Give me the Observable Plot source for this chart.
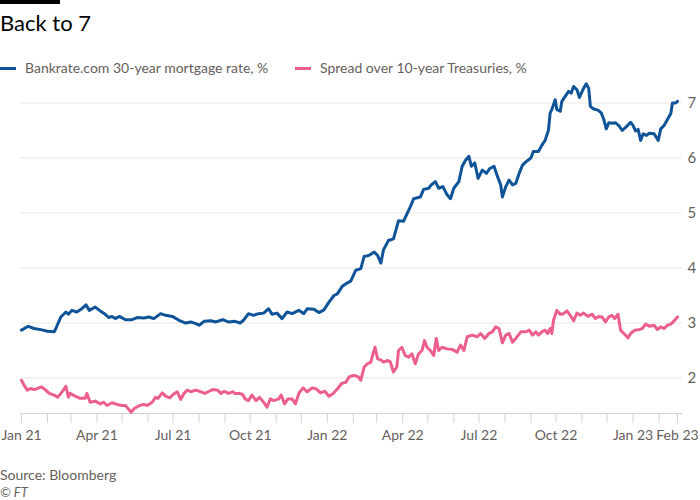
<!DOCTYPE html>
<html>
<head>
<meta charset="utf-8">
<script src="https://cdn.jsdelivr.net/npm/d3@7"></script>
<script src="https://cdn.jsdelivr.net/npm/@observablehq/plot@0.6"></script>
<style>
  html, body { margin: 0; padding: 0; background: #ffffff; }
  body { width: 700px; height: 500px; position: relative; overflow: hidden; font-family: Lato, "Open Sans", sans-serif; }
  #bar { position: absolute; left: 0; top: 0; width: 60px; height: 4px; background: #000; }
  #title { position: absolute; left: 0; top: 9px; font-size: 22px; color: #000; }
  .legend { position: absolute; top: 59px; font-size: 14px; color: #66605c; white-space: nowrap; }
  .legend .sw { position: absolute; top: 8px; width: 16px; height: 3px; }
  .legend span.t { position: relative; left: 25px; }
  #chart { position: absolute; left: 0; top: 70px; }
  #source { position: absolute; left: 0; top: 466px; font-size: 14px; color: #66605c; }
  #credit { position: absolute; left: 0; top: 484px; font-size: 13px; color: #66605c; font-style: italic; }
</style>
</head>
<body>
<div id="bar"></div>
<div id="title">Back to 7</div>
<div class="legend" id="leg1" style="left:0px"><div class="sw" style="background:#0f5499"></div><span class="t"></span></div>
<div class="legend" id="leg2" style="left:295px"><div class="sw" style="background:#eb5e8d"></div><span class="t"></span></div>
<div id="chart"></div>
<div id="source">Source: Bloomberg</div>
<div id="credit">© FT</div>
<script>
// ---- Data ----
const seriesNames = ["Bankrate.com 30-year mortgage rate, %", "Spread over 10-year Treasuries, %"];
const seriesColors = ["#0f5499", "#eb5e8d"];

// days since 1 Jan 2021
const mortgageDays = [0,8,15,23,31,39,41,47,53,56,60,66,72,77,81,88,94,99,104,108,112,117,124,132,138,146,152,158,166,172,180,188,196,202,208,212,218,226,232,240,247,255,261,265,271,277,283,289,295,299,305,311,317,323,331,337,341,349,355,361,367,373,377,383,389,393,399,405,409,415,421,425,429,432,438,444,450,456,464,468,476,480,486,489,494,498,503,508,512,516,522,526,530,534,537,541,545,550,555,559,564,568,572,574,578,582,586,590,594,598,602,608,611,617,621,625,629,631,633,637,639,643,645,649,653,656,659,663,666,670,674,677,679,683,688,692,695,698,701,705,709,713,717,722,727,730,733,736,739,742,746,749,755,760,763,767,771,775,777,781,783];
const mortgageRate = [2.87,2.94,2.90,2.88,2.85,2.84,2.90,3.11,3.20,3.16,3.23,3.20,3.26,3.33,3.23,3.29,3.22,3.17,3.10,3.12,3.08,3.12,3.06,3.06,3.10,3.09,3.11,3.08,3.17,3.14,3.12,3.05,3.00,3.02,2.99,2.96,3.03,3.04,3.02,3.06,3.02,3.03,3.00,3.05,3.17,3.14,3.17,3.18,3.26,3.16,3.18,3.08,3.20,3.17,3.23,3.17,3.26,3.25,3.19,3.24,3.38,3.50,3.53,3.67,3.73,3.76,3.96,3.99,4.21,4.23,4.29,4.23,4.09,4.33,4.50,4.53,4.86,4.85,5.11,5.26,5.29,5.43,5.45,5.51,5.57,5.45,5.48,5.33,5.26,5.45,5.57,5.85,5.96,6.03,5.85,5.91,5.63,5.78,5.72,5.81,5.85,5.67,5.51,5.29,5.48,5.60,5.51,5.54,5.72,5.87,5.93,6.00,6.12,6.12,6.23,6.32,6.51,6.82,6.88,7.06,6.88,6.85,7.03,7.12,7.21,7.18,7.30,7.24,7.10,7.24,7.35,7.27,6.94,6.89,6.87,6.82,6.70,6.53,6.64,6.63,6.64,6.59,6.50,6.57,6.65,6.59,6.49,6.52,6.32,6.44,6.41,6.45,6.44,6.32,6.53,6.59,6.70,6.81,7.00,7.00,7.03];

const spreadDays = [0,3,7,11,15,19,24,29,33,39,43,47,50,53,56,58,64,70,76,78,82,88,94,98,102,108,114,120,124,128,131,135,141,146,150,156,160,163,168,172,177,181,186,190,194,198,202,208,214,219,224,228,234,238,242,247,252,255,260,264,267,271,275,280,284,289,293,297,301,307,310,314,318,323,327,331,336,341,347,352,357,362,367,372,377,382,387,391,397,402,405,409,413,417,419,422,425,429,432,437,440,444,448,450,454,458,462,466,470,474,478,481,484,488,492,495,498,502,508,514,520,524,528,532,538,544,548,553,558,562,566,570,574,578,582,586,590,596,602,606,610,614,617,621,625,628,631,633,635,639,643,647,651,655,659,663,667,671,676,681,685,689,693,697,701,705,708,712,715,719,724,727,732,737,741,745,750,755,759,763,767,771,775,779,783];
const spreadValue = [1.96,1.87,1.78,1.81,1.79,1.81,1.84,1.78,1.72,1.69,1.65,1.72,1.78,1.85,1.65,1.72,1.67,1.63,1.63,1.72,1.56,1.58,1.53,1.56,1.50,1.55,1.52,1.50,1.50,1.43,1.38,1.45,1.50,1.52,1.50,1.56,1.65,1.63,1.73,1.67,1.64,1.70,1.75,1.61,1.72,1.78,1.75,1.78,1.75,1.72,1.76,1.79,1.78,1.72,1.76,1.72,1.75,1.72,1.72,1.70,1.62,1.59,1.69,1.59,1.65,1.56,1.47,1.62,1.59,1.62,1.69,1.53,1.62,1.62,1.53,1.72,1.82,1.75,1.82,1.80,1.73,1.76,1.67,1.72,1.80,1.90,1.92,2.02,2.05,2.02,1.96,2.20,2.26,2.29,2.41,2.56,2.35,2.33,2.29,2.32,2.30,2.11,2.20,2.50,2.56,2.41,2.38,2.44,2.26,2.44,2.50,2.68,2.56,2.50,2.41,2.72,2.50,2.56,2.53,2.52,2.47,2.60,2.50,2.75,2.78,2.75,2.81,2.72,2.81,2.84,2.93,2.90,2.64,2.78,2.81,2.65,2.72,2.84,2.84,2.87,2.78,2.84,2.78,2.84,2.87,2.81,2.90,2.81,3.05,3.23,3.16,3.17,3.22,3.14,3.04,3.18,3.14,3.18,3.12,3.16,3.08,3.12,3.11,3.02,3.11,3.14,3.08,3.16,2.87,2.81,2.73,2.81,2.87,2.88,2.90,2.98,2.94,2.96,2.88,2.93,2.90,2.96,2.98,3.04,3.11];

const xTickDates = ["2021-01-01","2021-02-01","2021-03-01","2021-04-01","2021-05-01","2021-06-01","2021-07-01","2021-08-01","2021-09-01","2021-10-01","2021-11-01","2021-12-01","2022-01-01","2022-02-01","2022-03-01","2022-04-01","2022-05-01","2022-06-01","2022-07-01","2022-08-01","2022-09-01","2022-10-01","2022-11-01","2022-12-01","2023-01-01","2023-02-01","2023-02-23"];
const xTickLabels = ["Jan 21","","","Apr 21","","","Jul 21","","","Oct 21","","","Jan 22","","","Apr 22","","","Jul 22","","","Oct 22","","","Jan 23","","Feb 23"];
const yTicks = [2, 3, 4, 5, 6, 7];

// ---- Build ----
const start = new Date(Date.UTC(2021, 0, 1));
const end = new Date(Date.UTC(2023, 1, 23));
const toDate = d => d3.utcDay.offset(start, d);
const mortgage = mortgageDays.map((d, i) => ({date: toDate(d), value: mortgageRate[i]}));
const spread = spreadDays.map((d, i) => ({date: toDate(d), value: spreadValue[i]}));
const tickDates = xTickDates.map(s => new Date(s + "T00:00:00Z"));
const labelMap = new Map(tickDates.map((d, i) => [+d, xTickLabels[i]]));

document.querySelector("#leg1 .t").textContent = seriesNames[0];
document.querySelector("#leg2 .t").textContent = seriesNames[1];

const yMin = 1.355, yMax = 7.5;
const axisColor = "#d8d1ca";
const textColor = "#66605c";

const chart = Plot.plot({
  width: 700,
  height: 374,
  marginTop: 5,
  marginBottom: 31,
  marginLeft: 20,
  marginRight: 18,
  style: {fontFamily: "Lato, 'Open Sans', sans-serif", background: "transparent", color: textColor},
  x: {type: "utc", domain: [start, end], range: [21, 677]},
  y: {domain: [yMin, yMax]},
  marks: [
    Plot.gridY(yTicks, {stroke: "#ebe6e1", strokeOpacity: 1}),
    Plot.ruleY([yMin], {stroke: axisColor, strokeWidth: 1}),
    Plot.axisX({ticks: tickDates, tickSize: 10, tickPadding: 7, fontSize: 14,
      stroke: axisColor, fill: textColor, label: null,
      tickFormat: d => labelMap.get(+d) ?? ""}),
    Plot.axisY({ticks: yTicks, anchor: "right", tickSize: 0, tickPadding: 5,
      fontSize: 15, fill: textColor, label: null, tickFormat: d => String(d)}),
    Plot.lineY(spread, {x: "date", y: "value", stroke: seriesColors[1], strokeWidth: 3}),
    Plot.lineY(mortgage, {x: "date", y: "value", stroke: seriesColors[0], strokeWidth: 3})
  ]
});
document.getElementById("chart").appendChild(chart);
</script>
</body>
</html>
